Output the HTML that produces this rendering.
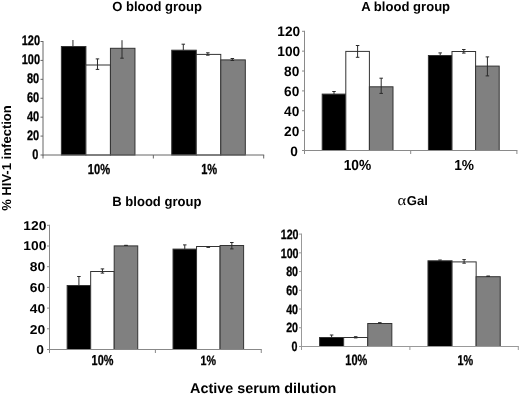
<!DOCTYPE html>
<html><head><meta charset="utf-8"><style>
html,body{margin:0;padding:0;background:#fff;}
svg{display:block;will-change:transform;}
</style></head><body>
<svg width="520" height="395" viewBox="0 0 520 395" shape-rendering="crispEdges">
<rect x="0" y="0" width="520" height="395" fill="#fff"/>
<g text-rendering="geometricPrecision" shape-rendering="auto">
<rect x="61.39" y="46.5" width="24.52" height="108.5" fill="#000" stroke="#333" stroke-width="1"/>
<rect x="85.91" y="65" width="24.52" height="90" fill="#fff" stroke="#333" stroke-width="1"/>
<rect x="110.44" y="48.3" width="24.52" height="106.7" fill="#808080" stroke="#333" stroke-width="1"/>
<rect x="171.74" y="50.2" width="24.52" height="104.8" fill="#000" stroke="#333" stroke-width="1"/>
<rect x="196.26" y="54.4" width="24.52" height="100.6" fill="#fff" stroke="#333" stroke-width="1"/>
<rect x="220.79" y="59.9" width="24.52" height="95.1" fill="#808080" stroke="#333" stroke-width="1"/>
<line x1="72.95" y1="40" x2="72.95" y2="46.5" stroke="#2a2a2a" stroke-width="1"/>
<line x1="97.47" y1="58.9" x2="97.47" y2="69.4" stroke="#2a2a2a" stroke-width="1"/>
<line x1="95.72" y1="58.9" x2="99.22" y2="58.9" stroke="#2a2a2a" stroke-width="1"/>
<line x1="95.72" y1="69.4" x2="99.22" y2="69.4" stroke="#2a2a2a" stroke-width="1"/>
<line x1="122" y1="40.2" x2="122" y2="58.2" stroke="#2a2a2a" stroke-width="1"/>
<line x1="120.25" y1="58.2" x2="123.75" y2="58.2" stroke="#2a2a2a" stroke-width="1"/>
<line x1="183.3" y1="44.2" x2="183.3" y2="50.2" stroke="#2a2a2a" stroke-width="1"/>
<line x1="181.55" y1="44.2" x2="185.05" y2="44.2" stroke="#2a2a2a" stroke-width="1"/>
<line x1="207.83" y1="52.8" x2="207.83" y2="55.2" stroke="#2a2a2a" stroke-width="1"/>
<line x1="206.08" y1="52.8" x2="209.58" y2="52.8" stroke="#2a2a2a" stroke-width="1"/>
<line x1="206.08" y1="55.2" x2="209.58" y2="55.2" stroke="#2a2a2a" stroke-width="1"/>
<line x1="232.35" y1="58.5" x2="232.35" y2="60.5" stroke="#2a2a2a" stroke-width="1"/>
<line x1="230.6" y1="58.5" x2="234.1" y2="58.5" stroke="#2a2a2a" stroke-width="1"/>
<line x1="230.6" y1="60.5" x2="234.1" y2="60.5" stroke="#2a2a2a" stroke-width="1"/>
<line x1="43" y1="41" x2="43" y2="155.5" stroke="#666" stroke-width="1"/>
<line x1="43" y1="155" x2="264.2" y2="155" stroke="#666" stroke-width="1"/>
<line x1="40.5" y1="41.5" x2="43" y2="41.5" stroke="#666" stroke-width="1"/>
<line x1="40.5" y1="60.42" x2="43" y2="60.42" stroke="#666" stroke-width="1"/>
<line x1="40.5" y1="79.33" x2="43" y2="79.33" stroke="#666" stroke-width="1"/>
<line x1="40.5" y1="98.25" x2="43" y2="98.25" stroke="#666" stroke-width="1"/>
<line x1="40.5" y1="117.17" x2="43" y2="117.17" stroke="#666" stroke-width="1"/>
<line x1="40.5" y1="136.08" x2="43" y2="136.08" stroke="#666" stroke-width="1"/>
<line x1="40.5" y1="155" x2="43" y2="155" stroke="#666" stroke-width="1"/>
<line x1="43" y1="155" x2="43" y2="158.5" stroke="#666" stroke-width="1"/>
<line x1="153.35" y1="155" x2="153.35" y2="158.5" stroke="#666" stroke-width="1"/>
<line x1="263.7" y1="155" x2="263.7" y2="158.5" stroke="#666" stroke-width="1"/>
<text transform="translate(21.7,45.48) scale(0.7900,1)" font-size="13.92" font-weight="bold" font-family="Liberation Sans" font-style="normal" fill="#000" stroke="#000" stroke-width="0.3">120</text>
<text transform="translate(21.7,64.42) scale(0.7900,1)" font-size="13.92" font-weight="bold" font-family="Liberation Sans" font-style="normal" fill="#000" stroke="#000" stroke-width="0.3">100</text>
<text transform="translate(26.93,83.35) scale(0.7900,1)" font-size="13.92" font-weight="bold" font-family="Liberation Sans" font-style="normal" fill="#000" stroke="#000" stroke-width="0.3">80</text>
<text transform="translate(26.93,102.28) scale(0.7900,1)" font-size="13.92" font-weight="bold" font-family="Liberation Sans" font-style="normal" fill="#000" stroke="#000" stroke-width="0.3">60</text>
<text transform="translate(26.93,121.22) scale(0.7900,1)" font-size="13.92" font-weight="bold" font-family="Liberation Sans" font-style="normal" fill="#000" stroke="#000" stroke-width="0.3">40</text>
<text transform="translate(26.93,140.15) scale(0.7900,1)" font-size="13.92" font-weight="bold" font-family="Liberation Sans" font-style="normal" fill="#000" stroke="#000" stroke-width="0.3">20</text>
<text transform="translate(32.24,159.09) scale(0.7900,1)" font-size="13.92" font-weight="bold" font-family="Liberation Sans" font-style="normal" fill="#000" stroke="#000" stroke-width="0.3">0</text>
<text transform="translate(87.8,174.36) scale(0.7725,1)" font-size="14.42" font-weight="bold" font-family="Liberation Sans" font-style="normal" fill="#000" stroke="#000" stroke-width="0.3">10%</text>
<text transform="translate(201.21,174.39) scale(0.7624,1)" font-size="14.52" font-weight="bold" font-family="Liberation Sans" font-style="normal" fill="#000" stroke="#000" stroke-width="0.3">1%</text>
<rect x="322.2" y="94.1" width="23.6" height="56.4" fill="#000" stroke="#333" stroke-width="1"/>
<rect x="345.8" y="51.4" width="23.6" height="99.1" fill="#fff" stroke="#333" stroke-width="1"/>
<rect x="369.4" y="86.8" width="23.6" height="63.7" fill="#808080" stroke="#333" stroke-width="1"/>
<rect x="428.4" y="55.5" width="23.6" height="95" fill="#000" stroke="#333" stroke-width="1"/>
<rect x="452" y="51.5" width="23.6" height="99" fill="#fff" stroke="#333" stroke-width="1"/>
<rect x="475.6" y="66.1" width="23.6" height="84.4" fill="#808080" stroke="#333" stroke-width="1"/>
<line x1="334" y1="91.5" x2="334" y2="94.1" stroke="#2a2a2a" stroke-width="1"/>
<line x1="332.25" y1="91.5" x2="335.75" y2="91.5" stroke="#2a2a2a" stroke-width="1"/>
<line x1="357.6" y1="45.5" x2="357.6" y2="57.3" stroke="#2a2a2a" stroke-width="1"/>
<line x1="355.85" y1="45.5" x2="359.35" y2="45.5" stroke="#2a2a2a" stroke-width="1"/>
<line x1="355.85" y1="57.3" x2="359.35" y2="57.3" stroke="#2a2a2a" stroke-width="1"/>
<line x1="381.2" y1="78.2" x2="381.2" y2="93.4" stroke="#2a2a2a" stroke-width="1"/>
<line x1="379.45" y1="78.2" x2="382.95" y2="78.2" stroke="#2a2a2a" stroke-width="1"/>
<line x1="379.45" y1="93.4" x2="382.95" y2="93.4" stroke="#2a2a2a" stroke-width="1"/>
<line x1="440.2" y1="52.9" x2="440.2" y2="55.5" stroke="#2a2a2a" stroke-width="1"/>
<line x1="438.45" y1="52.9" x2="441.95" y2="52.9" stroke="#2a2a2a" stroke-width="1"/>
<line x1="463.8" y1="49.5" x2="463.8" y2="53.1" stroke="#2a2a2a" stroke-width="1"/>
<line x1="462.05" y1="49.5" x2="465.55" y2="49.5" stroke="#2a2a2a" stroke-width="1"/>
<line x1="462.05" y1="53.1" x2="465.55" y2="53.1" stroke="#2a2a2a" stroke-width="1"/>
<line x1="487.4" y1="56.9" x2="487.4" y2="75.9" stroke="#2a2a2a" stroke-width="1"/>
<line x1="485.65" y1="56.9" x2="489.15" y2="56.9" stroke="#2a2a2a" stroke-width="1"/>
<line x1="485.65" y1="75.9" x2="489.15" y2="75.9" stroke="#2a2a2a" stroke-width="1"/>
<line x1="304.5" y1="30.8" x2="304.5" y2="151" stroke="#8a8a8a" stroke-width="1"/>
<line x1="304.5" y1="150.5" x2="517.4" y2="150.5" stroke="#8a8a8a" stroke-width="1"/>
<line x1="302" y1="31.3" x2="304.5" y2="31.3" stroke="#8a8a8a" stroke-width="1"/>
<line x1="302" y1="51.17" x2="304.5" y2="51.17" stroke="#8a8a8a" stroke-width="1"/>
<line x1="302" y1="71.03" x2="304.5" y2="71.03" stroke="#8a8a8a" stroke-width="1"/>
<line x1="302" y1="90.9" x2="304.5" y2="90.9" stroke="#8a8a8a" stroke-width="1"/>
<line x1="302" y1="110.77" x2="304.5" y2="110.77" stroke="#8a8a8a" stroke-width="1"/>
<line x1="302" y1="130.63" x2="304.5" y2="130.63" stroke="#8a8a8a" stroke-width="1"/>
<line x1="302" y1="150.5" x2="304.5" y2="150.5" stroke="#8a8a8a" stroke-width="1"/>
<line x1="304.5" y1="150.5" x2="304.5" y2="154" stroke="#8a8a8a" stroke-width="1"/>
<line x1="410.7" y1="150.5" x2="410.7" y2="154" stroke="#8a8a8a" stroke-width="1"/>
<line x1="516.9" y1="150.5" x2="516.9" y2="154" stroke="#8a8a8a" stroke-width="1"/>
<text transform="translate(277.3,36.36) scale(1.0000,1)" font-size="13.7" font-weight="bold" font-family="Liberation Sans" font-style="normal" fill="#000">120</text>
<text transform="translate(277.3,56.26) scale(1.0000,1)" font-size="13.7" font-weight="bold" font-family="Liberation Sans" font-style="normal" fill="#000">100</text>
<text transform="translate(284.04,76.16) scale(1.0000,1)" font-size="13.7" font-weight="bold" font-family="Liberation Sans" font-style="normal" fill="#000">80</text>
<text transform="translate(284.04,96.06) scale(1.0000,1)" font-size="13.7" font-weight="bold" font-family="Liberation Sans" font-style="normal" fill="#000">60</text>
<text transform="translate(284.04,115.96) scale(1.0000,1)" font-size="13.7" font-weight="bold" font-family="Liberation Sans" font-style="normal" fill="#000">40</text>
<text transform="translate(284.04,135.86) scale(1.0000,1)" font-size="13.7" font-weight="bold" font-family="Liberation Sans" font-style="normal" fill="#000">20</text>
<text transform="translate(290.14,155.76) scale(1.0000,1)" font-size="13.7" font-weight="bold" font-family="Liberation Sans" font-style="normal" fill="#000">0</text>
<text transform="translate(343.64,170.25) scale(0.9355,1)" font-size="14.7" font-weight="bold" font-family="Liberation Sans" font-style="normal" fill="#000">10%</text>
<text transform="translate(454.14,170.49) scale(0.9454,1)" font-size="14.52" font-weight="bold" font-family="Liberation Sans" font-style="normal" fill="#000">1%</text>
<rect x="67.15" y="285.5" width="23.53" height="64" fill="#000" stroke="#333" stroke-width="1"/>
<rect x="90.67" y="271.5" width="23.53" height="78" fill="#fff" stroke="#333" stroke-width="1"/>
<rect x="114.2" y="245.9" width="23.53" height="103.6" fill="#808080" stroke="#333" stroke-width="1"/>
<rect x="173.02" y="249.1" width="23.53" height="100.4" fill="#000" stroke="#333" stroke-width="1"/>
<rect x="196.55" y="246.5" width="23.53" height="103" fill="#fff" stroke="#333" stroke-width="1"/>
<rect x="220.08" y="245.5" width="23.53" height="104" fill="#808080" stroke="#333" stroke-width="1"/>
<line x1="78.91" y1="276.5" x2="78.91" y2="285.5" stroke="#2a2a2a" stroke-width="1"/>
<line x1="77.16" y1="276.5" x2="80.66" y2="276.5" stroke="#2a2a2a" stroke-width="1"/>
<line x1="102.44" y1="268.9" x2="102.44" y2="273.1" stroke="#2a2a2a" stroke-width="1"/>
<line x1="100.69" y1="268.9" x2="104.19" y2="268.9" stroke="#2a2a2a" stroke-width="1"/>
<line x1="100.69" y1="273.1" x2="104.19" y2="273.1" stroke="#2a2a2a" stroke-width="1"/>
<line x1="125.97" y1="245.3" x2="125.97" y2="245.5" stroke="#2a2a2a" stroke-width="1"/>
<line x1="124.22" y1="245.3" x2="127.72" y2="245.3" stroke="#2a2a2a" stroke-width="1"/>
<line x1="124.22" y1="245.5" x2="127.72" y2="245.5" stroke="#2a2a2a" stroke-width="1"/>
<line x1="184.78" y1="244.9" x2="184.78" y2="249.1" stroke="#2a2a2a" stroke-width="1"/>
<line x1="183.03" y1="244.9" x2="186.53" y2="244.9" stroke="#2a2a2a" stroke-width="1"/>
<line x1="208.31" y1="247" x2="208.31" y2="247.3" stroke="#2a2a2a" stroke-width="1"/>
<line x1="206.56" y1="247" x2="210.06" y2="247" stroke="#2a2a2a" stroke-width="1"/>
<line x1="206.56" y1="247.3" x2="210.06" y2="247.3" stroke="#2a2a2a" stroke-width="1"/>
<line x1="231.84" y1="242.5" x2="231.84" y2="248.9" stroke="#2a2a2a" stroke-width="1"/>
<line x1="230.09" y1="242.5" x2="233.59" y2="242.5" stroke="#2a2a2a" stroke-width="1"/>
<line x1="230.09" y1="248.9" x2="233.59" y2="248.9" stroke="#2a2a2a" stroke-width="1"/>
<line x1="49.5" y1="224.8" x2="49.5" y2="350" stroke="#888" stroke-width="1"/>
<line x1="49.5" y1="349.5" x2="261.75" y2="349.5" stroke="#888" stroke-width="1"/>
<line x1="47" y1="225.3" x2="49.5" y2="225.3" stroke="#888" stroke-width="1"/>
<line x1="47" y1="246" x2="49.5" y2="246" stroke="#888" stroke-width="1"/>
<line x1="47" y1="266.7" x2="49.5" y2="266.7" stroke="#888" stroke-width="1"/>
<line x1="47" y1="287.4" x2="49.5" y2="287.4" stroke="#888" stroke-width="1"/>
<line x1="47" y1="308.1" x2="49.5" y2="308.1" stroke="#888" stroke-width="1"/>
<line x1="47" y1="328.8" x2="49.5" y2="328.8" stroke="#888" stroke-width="1"/>
<line x1="47" y1="349.5" x2="49.5" y2="349.5" stroke="#888" stroke-width="1"/>
<line x1="49.5" y1="349.5" x2="49.5" y2="353" stroke="#888" stroke-width="1"/>
<line x1="155.38" y1="349.5" x2="155.38" y2="353" stroke="#888" stroke-width="1"/>
<line x1="261.25" y1="349.5" x2="261.25" y2="353" stroke="#888" stroke-width="1"/>
<text transform="translate(23.35,229.62) scale(1.0750,1)" font-size="12.86" font-weight="bold" font-family="Liberation Sans" font-style="normal" fill="#000">120</text>
<text transform="translate(23.35,250.4) scale(1.0750,1)" font-size="12.86" font-weight="bold" font-family="Liberation Sans" font-style="normal" fill="#000">100</text>
<text transform="translate(29.71,271.17) scale(1.0750,1)" font-size="12.86" font-weight="bold" font-family="Liberation Sans" font-style="normal" fill="#000">80</text>
<text transform="translate(29.71,291.95) scale(1.0750,1)" font-size="12.86" font-weight="bold" font-family="Liberation Sans" font-style="normal" fill="#000">60</text>
<text transform="translate(29.71,312.72) scale(1.0750,1)" font-size="12.86" font-weight="bold" font-family="Liberation Sans" font-style="normal" fill="#000">40</text>
<text transform="translate(29.71,333.5) scale(1.0750,1)" font-size="12.86" font-weight="bold" font-family="Liberation Sans" font-style="normal" fill="#000">20</text>
<text transform="translate(36.28,354.27) scale(1.0750,1)" font-size="12.86" font-weight="bold" font-family="Liberation Sans" font-style="normal" fill="#000">0</text>
<text transform="translate(91.62,365.26) scale(0.7544,1)" font-size="14.42" font-weight="bold" font-family="Liberation Sans" font-style="normal" fill="#000" stroke="#000" stroke-width="0.3">10%</text>
<text transform="translate(200.58,364.9) scale(0.7913,1)" font-size="13.52" font-weight="bold" font-family="Liberation Sans" font-style="normal" fill="#000" stroke="#000" stroke-width="0.3">1%</text>
<rect x="319.57" y="337.5" width="24.09" height="9" fill="#000" stroke="#333" stroke-width="1"/>
<rect x="343.66" y="337.5" width="24.09" height="9" fill="#fff" stroke="#333" stroke-width="1"/>
<rect x="367.74" y="323.5" width="24.09" height="23" fill="#808080" stroke="#333" stroke-width="1"/>
<rect x="427.97" y="260.8" width="24.09" height="85.7" fill="#000" stroke="#333" stroke-width="1"/>
<rect x="452.06" y="261.9" width="24.09" height="84.6" fill="#fff" stroke="#333" stroke-width="1"/>
<rect x="476.14" y="276.7" width="24.09" height="69.8" fill="#808080" stroke="#333" stroke-width="1"/>
<line x1="331.61" y1="335" x2="331.61" y2="337.5" stroke="#2a2a2a" stroke-width="1"/>
<line x1="329.86" y1="335" x2="333.36" y2="335" stroke="#2a2a2a" stroke-width="1"/>
<line x1="355.7" y1="336.7" x2="355.7" y2="337.9" stroke="#2a2a2a" stroke-width="1"/>
<line x1="353.95" y1="336.7" x2="357.45" y2="336.7" stroke="#2a2a2a" stroke-width="1"/>
<line x1="353.95" y1="337.9" x2="357.45" y2="337.9" stroke="#2a2a2a" stroke-width="1"/>
<line x1="379.79" y1="322.7" x2="379.79" y2="323.3" stroke="#2a2a2a" stroke-width="1"/>
<line x1="378.04" y1="322.7" x2="381.54" y2="322.7" stroke="#2a2a2a" stroke-width="1"/>
<line x1="378.04" y1="323.3" x2="381.54" y2="323.3" stroke="#2a2a2a" stroke-width="1"/>
<line x1="440.01" y1="260" x2="440.01" y2="260.6" stroke="#2a2a2a" stroke-width="1"/>
<line x1="438.26" y1="260" x2="441.76" y2="260" stroke="#2a2a2a" stroke-width="1"/>
<line x1="464.1" y1="259.6" x2="464.1" y2="263.2" stroke="#2a2a2a" stroke-width="1"/>
<line x1="462.35" y1="259.6" x2="465.85" y2="259.6" stroke="#2a2a2a" stroke-width="1"/>
<line x1="462.35" y1="263.2" x2="465.85" y2="263.2" stroke="#2a2a2a" stroke-width="1"/>
<line x1="488.19" y1="276" x2="488.19" y2="276.5" stroke="#2a2a2a" stroke-width="1"/>
<line x1="486.44" y1="276" x2="489.94" y2="276" stroke="#2a2a2a" stroke-width="1"/>
<line x1="486.44" y1="276.5" x2="489.94" y2="276.5" stroke="#2a2a2a" stroke-width="1"/>
<line x1="301.5" y1="233.6" x2="301.5" y2="347" stroke="#999" stroke-width="1"/>
<line x1="301.5" y1="346.5" x2="518.8" y2="346.5" stroke="#999" stroke-width="1"/>
<line x1="299" y1="234.1" x2="301.5" y2="234.1" stroke="#999" stroke-width="1"/>
<line x1="299" y1="252.83" x2="301.5" y2="252.83" stroke="#999" stroke-width="1"/>
<line x1="299" y1="271.57" x2="301.5" y2="271.57" stroke="#999" stroke-width="1"/>
<line x1="299" y1="290.3" x2="301.5" y2="290.3" stroke="#999" stroke-width="1"/>
<line x1="299" y1="309.03" x2="301.5" y2="309.03" stroke="#999" stroke-width="1"/>
<line x1="299" y1="327.77" x2="301.5" y2="327.77" stroke="#999" stroke-width="1"/>
<line x1="299" y1="346.5" x2="301.5" y2="346.5" stroke="#999" stroke-width="1"/>
<line x1="301.5" y1="346.5" x2="301.5" y2="350" stroke="#999" stroke-width="1"/>
<line x1="409.9" y1="346.5" x2="409.9" y2="350" stroke="#999" stroke-width="1"/>
<line x1="518.3" y1="346.5" x2="518.3" y2="350" stroke="#999" stroke-width="1"/>
<text transform="translate(280.7,238.91) scale(0.7900,1)" font-size="13.57" font-weight="bold" font-family="Liberation Sans" font-style="normal" fill="#000" stroke="#000" stroke-width="0.3">120</text>
<text transform="translate(280.7,257.57) scale(0.7900,1)" font-size="13.57" font-weight="bold" font-family="Liberation Sans" font-style="normal" fill="#000" stroke="#000" stroke-width="0.3">100</text>
<text transform="translate(286.13,276.23) scale(0.7900,1)" font-size="13.57" font-weight="bold" font-family="Liberation Sans" font-style="normal" fill="#000" stroke="#000" stroke-width="0.3">80</text>
<text transform="translate(286.13,294.89) scale(0.7900,1)" font-size="13.57" font-weight="bold" font-family="Liberation Sans" font-style="normal" fill="#000" stroke="#000" stroke-width="0.3">60</text>
<text transform="translate(286.13,313.55) scale(0.7900,1)" font-size="13.57" font-weight="bold" font-family="Liberation Sans" font-style="normal" fill="#000" stroke="#000" stroke-width="0.3">40</text>
<text transform="translate(286.13,332.21) scale(0.7900,1)" font-size="13.57" font-weight="bold" font-family="Liberation Sans" font-style="normal" fill="#000" stroke="#000" stroke-width="0.3">20</text>
<text transform="translate(291.38,350.86) scale(0.7900,1)" font-size="13.57" font-weight="bold" font-family="Liberation Sans" font-style="normal" fill="#000" stroke="#000" stroke-width="0.3">0</text>
<text transform="translate(345.31,364.85) scale(0.7329,1)" font-size="14.98" font-weight="bold" font-family="Liberation Sans" font-style="normal" fill="#000" stroke="#000" stroke-width="0.3">10%</text>
<text transform="translate(457.42,364.79) scale(0.7621,1)" font-size="14.23" font-weight="bold" font-family="Liberation Sans" font-style="normal" fill="#000" stroke="#000" stroke-width="0.3">1%</text>
<text transform="translate(112.28,11.1) scale(0.9772,1)" font-size="13.33" font-weight="bold" font-family="Liberation Sans" font-style="normal" fill="#000">O blood group</text>
<text transform="translate(361.27,11.1) scale(0.9879,1)" font-size="13.24" font-weight="bold" font-family="Liberation Sans" font-style="normal" fill="#000">A blood group</text>
<text transform="translate(112.22,206.2) scale(0.9771,1)" font-size="13.38" font-weight="bold" font-family="Liberation Sans" font-style="normal" fill="#000">B blood group</text>
<text transform="translate(406.78,205) scale(1.0276,1)" font-size="12.76" font-weight="bold" font-family="Liberation Sans" font-style="normal" fill="#000">Gal</text>
<text transform="translate(397.58,205.35) scale(1.1253,1)" font-size="14.72" font-weight="normal" font-family="Liberation Serif" font-style="normal" fill="#000">α</text>
<text transform="translate(190.04,392.8) scale(1.0089,1)" font-size="14.25" font-weight="bold" font-family="Liberation Sans" font-style="normal" fill="#000">Active serum dilution</text>
<text transform="translate(11,210.83) rotate(-90) scale(1.0014,1)" font-size="13.0" font-weight="bold" font-family="Liberation Sans" fill="#000">% HIV-1 infection</text>
</g>
</svg>
</body></html>
